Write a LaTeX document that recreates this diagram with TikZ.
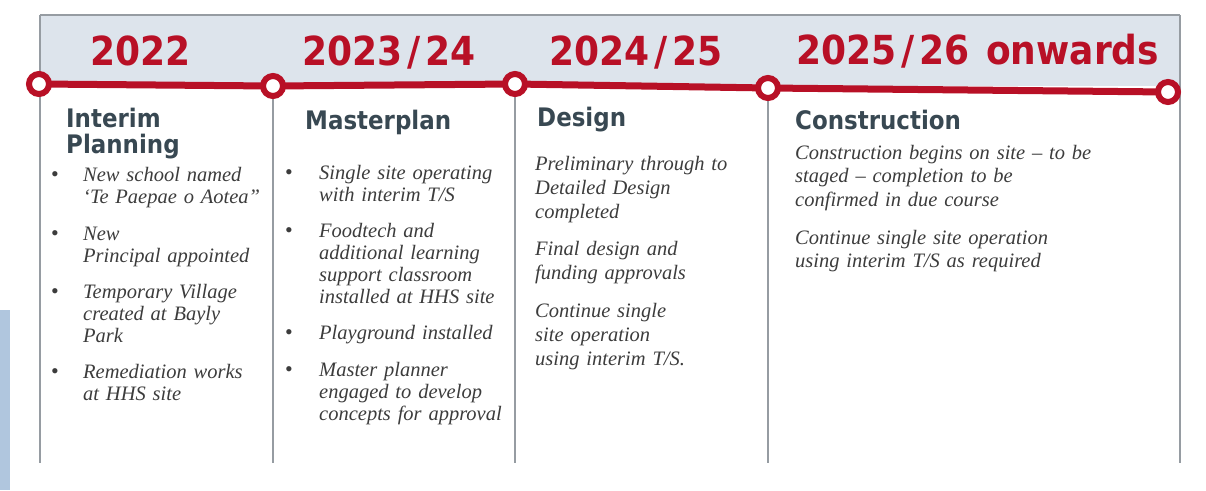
\documentclass[tikz,border=0pt]{standalone}
\usepackage{fontspec}
\setmainfont{Liberation Serif}
\newfontfamily\hfont[FakeStretch=0.9]{DejaVu Sans}
\definecolor{tlred}{RGB}{184,16,38}
\definecolor{hdrbg}{RGB}{221,228,236}
\definecolor{sepgray}{RGB}{150,156,162}
\definecolor{headc}{RGB}{56,72,82}
\definecolor{stripc}{RGB}{176,198,222}
\definecolor{bodyc}{RGB}{60,60,60}
\newcommand{\slsh}{\kern5pt/\kern5pt}
\tikzset{
  redline/.style={draw=tlred, line width=7pt},
  dot/.style={circle, draw=tlred, fill=white, line width=6pt, minimum size=20pt, inner sep=0pt},
  sepline/.style={draw=sepgray, line width=1.6pt},
  yearlbl/.style={font=\hfont\bfseries\fontsize{40}{40}\selectfont, text=tlred, anchor=base west, inner sep=0pt},
  headlbl/.style={font=\hfont\bfseries\fontsize{25.5}{26}\selectfont, text=headc, anchor=base west, inner sep=0pt, text width=220pt, align=left},
  bodytxt/.style={font=\itshape\fontsize{20.5}{22}\selectfont, text=bodyc, anchor=base west, inner sep=0pt, text width=#1, align=left},
  bodytxt/.default=200pt,
  bul/.style={font=\fontsize{22}{22}\selectfont, text=bodyc, anchor=base, inner sep=0pt}
}
\begin{document}
\begin{tikzpicture}[x=1pt,y=-1pt]
\useasboundingbox (0,0) rectangle (1206,490);
% left strip
\fill[stripc] (0,310) rectangle (10,490);
% header background
\fill[hdrbg] (40,15) rectangle (1180,86);
% frame
\coordinate (tl) at (40,15);
\coordinate (tr) at (1180,15);
\coordinate (bl) at (40,463);
\coordinate (br) at (1180,463);
\draw[sepline, line width=2.2pt] (tl) -- (tr);
\draw[sepline] (tl) -- (bl);
\draw[sepline] (tr) -- (br);
% circle centres
\coordinate (p1) at (39,84);
\coordinate (p2) at (273,86);
\coordinate (p3) at (515,84);
\coordinate (p4) at (768,88);
\coordinate (p5) at (1168,92);
\coordinate (b2) at (273,463);
\coordinate (b3) at (515,463);
\coordinate (b4) at (768,463);
\draw[sepline] (p2) -- (b2);
\draw[sepline] (p3) -- (b3);
\draw[sepline] (p4) -- (b4);
\draw[redline] (p1) -- (p2) -- (p3) -- (p4) -- (p5);
\node[dot] (c1) at (p1) {};
\node[dot] (c2) at (p2) {};
\node[dot] (c3) at (p3) {};
\node[dot] (c4) at (p4) {};
\node[dot] (c5) at (p5) {};
% years
\node[yearlbl] (y1) at (90,65) {2022};
\node[yearlbl] (y2) at (302,65) {2023\slsh24};
\node[yearlbl] (y3) at (549,65) {2024\slsh25};
\node[yearlbl] (y4) at (796,64) {2025\slsh26\kern4pt{} onwards};
% headings
\node[headlbl] (h1) at (66,127) {Interim\\[0pt]Planning};
\node[headlbl] (h2) at (305,129) {Masterplan};
\node[headlbl] (h3) at (537,126) {Design};
\node[headlbl] (h4) at (795,129) {Construction};
% column 1
\node[bul] (b11) at (55,181) {•};
\node[bodytxt] (t11) at (83,181) {New school named\\‘Te Paepae o Aotea"};
\node[bul] (b12) at (55,240) {•};
\node[bodytxt] (t12) at (83,240) {New\\Principal appointed};
\node[bul] (b13) at (55,298) {•};
\node[bodytxt] (t13) at (83,298) {Temporary Village\\created at Bayly\\Park};
\node[bul] (b14) at (55,378) {•};
\node[bodytxt] (t14) at (83,378) {Remediation works\\at HHS site};
% column 2
\node[bul] (b21) at (289,179) {•};
\node[bodytxt] (t21) at (319,179) {Single site operating\\with interim T/S};
\node[bul] (b22) at (289,237) {•};
\node[bodytxt] (t22) at (319,237) {Foodtech and\\additional learning\\support classroom\\installed at HHS site};
\node[bul] (b23) at (289,339) {•};
\node[bodytxt] (t23) at (319,339) {Playground installed};
\node[bul] (b24) at (289,376) {•};
\node[bodytxt] (t24) at (319,376) {Master planner\\engaged to develop\\concepts for approval};
% column 3
\begin{scope}[bodytxt/.append style={font=\itshape\fontsize{20.5}{24}\selectfont}]
\node[bodytxt] (t31) at (535,170) {Preliminary through to\\Detailed Design\\completed};
\node[bodytxt] (t32) at (535,255) {Final design and\\funding approvals};
\node[bodytxt] (t33) at (535,317) {Continue single\\site operation\\using interim T/S.};
\end{scope}
% column 4
\begin{scope}[bodytxt/.append style={font=\itshape\fontsize{20.5}{23.5}\selectfont}]
\node[bodytxt=360pt] (t41) at (795,159) {Construction begins on site – to be\\staged – completion to be\\confirmed in due course};
\node[bodytxt=360pt] (t42) at (795,244) {Continue single site operation\\using interim T/S as required};
\end{scope}
\end{tikzpicture}
\end{document}
